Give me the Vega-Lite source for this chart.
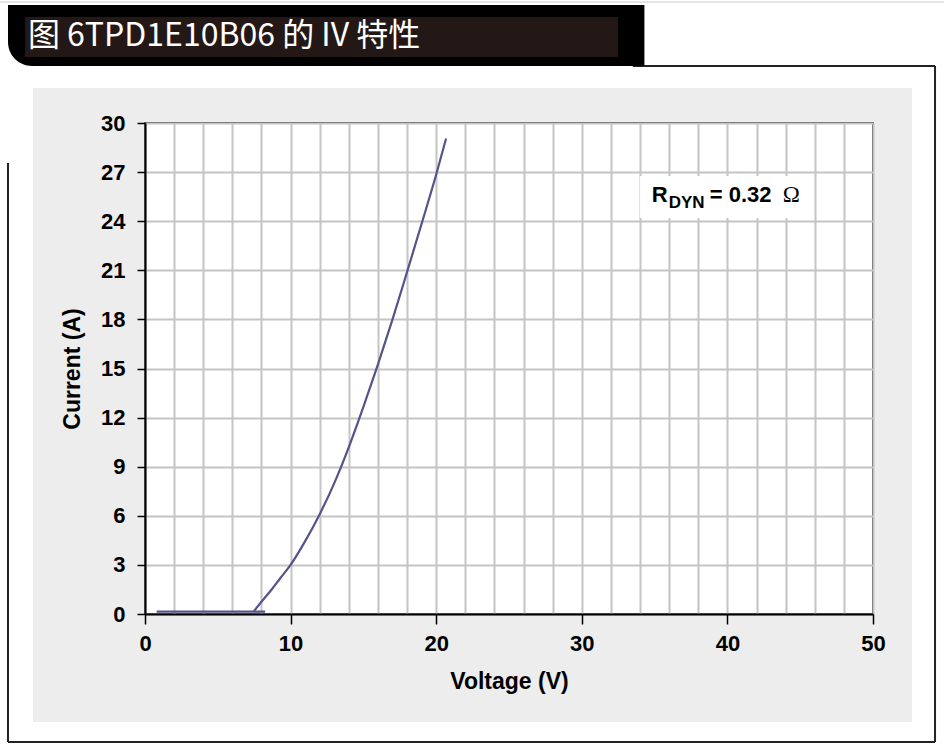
{
  "$schema": "https://vega.github.io/schema/vega-lite/v6.json",
  "width": 728,
  "height": 491,
  "autosize": {"type": "none"},
  "padding": {"left": 145, "top": 123, "right": 71, "bottom": 134},
  "background": "#ecedec",
  "config": {
    "view": {"fill": "white", "stroke": "black", "strokeWidth": 1.5},
    "font": "Liberation Sans",
    "axis": {
      "grid": true,
      "gridColor": "#c4c4c4",
      "gridWidth": 2,
      "domainColor": "black",
      "domainWidth": 2,
      "tickColor": "black",
      "tickWidth": 1.5,
      "labelFont": "Liberation Sans",
      "labelFontWeight": "bold",
      "labelFontSize": 22,
      "labelColor": "black",
      "labelFlush": false,
      "labelOverlap": false,
      "titleFont": "Liberation Sans",
      "titleFontSize": 23,
      "titleFontWeight": "bold",
      "titleColor": "black"
    },
    "axisX": {"tickSize": 10, "labelPadding": 9, "titlePadding": 16, "tickCount": 60},
    "axisY": {"tickSize": 8, "labelPadding": 12, "titlePadding": 16, "tickCount": 20}
  },
  "datasets": {
    "iv": [
      {"series": "leakage", "voltage": 0.8, "current": 0.14},
      {"series": "leakage", "voltage": 8.25, "current": 0.14},
      {"series": "clamp", "voltage": 7.45, "current": 0.14},
      {"series": "clamp", "voltage": 8.0, "current": 0.75},
      {"series": "clamp", "voltage": 8.7, "current": 1.5},
      {"series": "clamp", "voltage": 9.3, "current": 2.2},
      {"series": "clamp", "voltage": 10.0, "current": 3.0},
      {"series": "clamp", "voltage": 11.0, "current": 4.45},
      {"series": "clamp", "voltage": 12.0, "current": 6.1},
      {"series": "clamp", "voltage": 13.0, "current": 8.0},
      {"series": "clamp", "voltage": 14.0, "current": 10.2},
      {"series": "clamp", "voltage": 15.0, "current": 12.65},
      {"series": "clamp", "voltage": 16.0, "current": 15.25},
      {"series": "clamp", "voltage": 17.0, "current": 18.0},
      {"series": "clamp", "voltage": 18.0, "current": 20.9},
      {"series": "clamp", "voltage": 19.0, "current": 23.85},
      {"series": "clamp", "voltage": 20.0, "current": 26.85},
      {"series": "clamp", "voltage": 20.68, "current": 29.05}
    ]
  },
  "layer": [
    {
      "data": {"name": "iv"},
      "mark": {"type": "line", "color": "#55548a", "strokeWidth": 2.2, "interpolate": "monotone"},
      "encoding": {
        "x": {
          "field": "voltage",
          "type": "quantitative",
          "scale": {"domain": [0, 50], "nice": false, "zero": false},
          "axis": {
            "title": "Voltage (V)",
            "tickCount": 60,
            "values": [0, 2, 4, 6, 8, 10, 12, 14, 16, 18, 20, 22, 24, 26, 28, 30, 32, 34, 36, 38, 40, 42, 44, 46, 48, 50],
            "labelExpr": "datum.value % 10 === 0 ? datum.label : ''",
            "tickOpacity": {"condition": {"test": "datum.value % 10 === 0", "value": 1}, "value": 0}
          }
        },
        "y": {
          "field": "current",
          "type": "quantitative",
          "scale": {"domain": [0, 30], "nice": false, "zero": false},
          "axis": {
            "title": "Current (A)",
            "tickCount": 20,
            "values": [0, 3, 6, 9, 12, 15, 18, 21, 24, 27, 30]
          }
        },
        "detail": {"field": "series", "type": "nominal"}
      }
    },
    {
      "data": {"values": [{}]},
      "mark": {"type": "rect", "fill": "white"},
      "encoding": {
        "x": {"datum": 34.0, "type": "quantitative"},
        "x2": {"datum": 45.6},
        "y": {"datum": 26.76, "type": "quantitative"},
        "y2": {"datum": 24.2}
      }
    },
    {
      "data": {"values": [{}]},
      "mark": {"type": "text", "text": "R", "align": "left", "baseline": "alphabetic", "fontWeight": "bold", "fontSize": 22, "color": "black"},
      "encoding": {
        "x": {"datum": 34.8, "type": "quantitative"},
        "y": {"datum": 25.19, "type": "quantitative"}
      }
    },
    {
      "data": {"values": [{}]},
      "mark": {"type": "text", "text": "DYN", "align": "left", "baseline": "alphabetic", "fontWeight": "bold", "fontSize": 17, "color": "black", "dx": 17, "dy": 6},
      "encoding": {
        "x": {"datum": 34.8, "type": "quantitative"},
        "y": {"datum": 25.19, "type": "quantitative"}
      }
    },
    {
      "data": {"values": [{}]},
      "mark": {"type": "text", "text": "= 0.32", "align": "left", "baseline": "alphabetic", "fontWeight": "bold", "fontSize": 22, "color": "black", "dx": 58},
      "encoding": {
        "x": {"datum": 34.8, "type": "quantitative"},
        "y": {"datum": 25.19, "type": "quantitative"}
      }
    },
    {
      "data": {"values": [{}]},
      "mark": {"type": "text", "text": "Ω", "align": "left", "baseline": "alphabetic", "font": "Liberation Serif", "fontSize": 23, "color": "black", "dx": 131},
      "encoding": {
        "x": {"datum": 34.8, "type": "quantitative"},
        "y": {"datum": 25.19, "type": "quantitative"}
      }
    },
    {
      "data": {"values": [{}]},
      "mark": {"type": "rect", "fill": "white"},
      "encoding": {
        "x": {"datum": -10.5, "type": "quantitative"},
        "x2": {"datum": 55.5},
        "y": {"datum": 38, "type": "quantitative"},
        "y2": {"datum": 32.14}
      }
    },
    {
      "data": {"values": [{}]},
      "mark": {"type": "rect", "fill": "white"},
      "encoding": {
        "x": {"datum": -10.5, "type": "quantitative"},
        "x2": {"datum": 55.5},
        "y": {"datum": -6.6, "type": "quantitative"},
        "y2": {"datum": -8.7}
      }
    },
    {
      "data": {"values": [{}]},
      "mark": {"type": "rect", "fill": "white"},
      "encoding": {
        "x": {"datum": -10.5, "type": "quantitative"},
        "x2": {"datum": -7.69},
        "y": {"datum": 38, "type": "quantitative"},
        "y2": {"datum": -8.7}
      }
    },
    {
      "data": {"values": [{}]},
      "mark": {"type": "rect", "fill": "white"},
      "encoding": {
        "x": {"datum": 52.68, "type": "quantitative"},
        "x2": {"datum": 55.5},
        "y": {"datum": 38, "type": "quantitative"},
        "y2": {"datum": -8.7}
      }
    },
    {
      "data": {"values": [{}]},
      "mark": {"type": "rule", "color": "#dcdcdc", "strokeWidth": 1.5},
      "encoding": {
        "x": {"datum": -10.5, "type": "quantitative"},
        "x2": {"datum": 55.5},
        "y": {"datum": 37.39, "type": "quantitative"}
      }
    },
    {
      "data": {"values": [{}]},
      "mark": {"type": "rule", "color": "#222222", "strokeWidth": 2},
      "encoding": {
        "x": {"datum": 33.5, "type": "quantitative"},
        "x2": {"datum": 54.26},
        "y": {"datum": 33.48, "type": "quantitative"}
      }
    },
    {
      "data": {"values": [{}]},
      "mark": {"type": "rule", "color": "#222222", "strokeWidth": 2},
      "encoding": {
        "x": {"datum": 54.26, "type": "quantitative"},
        "y": {"datum": 33.48, "type": "quantitative"},
        "y2": {"datum": -7.82}
      }
    },
    {
      "data": {"values": [{}]},
      "mark": {"type": "rule", "color": "#222222", "strokeWidth": 2},
      "encoding": {
        "x": {"datum": -9.41, "type": "quantitative"},
        "x2": {"datum": 54.26},
        "y": {"datum": -7.82, "type": "quantitative"}
      }
    },
    {
      "data": {"values": [{}]},
      "mark": {"type": "rule", "color": "#222222", "strokeWidth": 2},
      "encoding": {
        "x": {"datum": -9.41, "type": "quantitative"},
        "y": {"datum": 27.56, "type": "quantitative"},
        "y2": {"datum": -7.82}
      }
    },
    {
      "data": {"values": [{}]},
      "mark": {"type": "rect", "fill": "black", "cornerRadiusBottomLeft": 24},
      "encoding": {
        "x": {"datum": -9.41, "type": "quantitative"},
        "x2": {"datum": 34.3},
        "y": {"datum": 37.21, "type": "quantitative"},
        "y2": {"datum": 33.48}
      }
    },
    {
      "data": {"values": [{}]},
      "mark": {"type": "rect", "fill": "#231815"},
      "encoding": {
        "x": {"datum": -8.24, "type": "quantitative"},
        "x2": {"datum": 32.49},
        "y": {"datum": 36.48, "type": "quantitative"},
        "y2": {"datum": 34.03}
      }
    },
    {
      "data": {"values": [{}]},
      "mark": {"type": "text", "text": "图 6TPD1E10B06 的 IV 特性", "align": "left", "baseline": "alphabetic", "font": "Noto Sans CJK SC", "fontSize": 32, "color": "white"},
      "encoding": {
        "x": {"datum": -8.04, "type": "quantitative"},
        "y": {"datum": 34.73, "type": "quantitative"}
      }
    }
  ]
}
